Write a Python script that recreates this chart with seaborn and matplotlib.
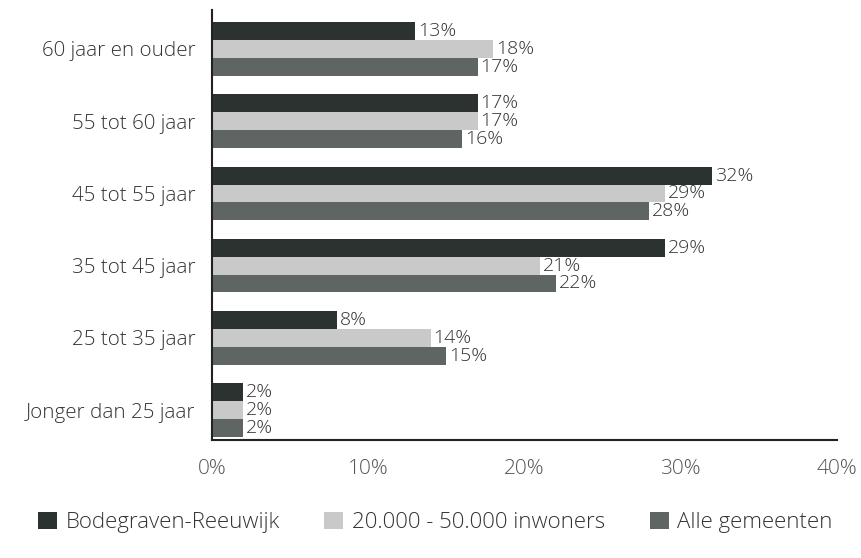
import matplotlib
matplotlib.use("Agg")
import matplotlib.pyplot as plt
import seaborn as sns
import pandas as pd
from matplotlib.patches import Patch

categories = ["60 jaar en ouder", "55 tot 60 jaar", "45 tot 55 jaar",
              "35 tot 45 jaar", "25 tot 35 jaar", "Jonger dan 25 jaar"]
series = ["Bodegraven-Reeuwijk", "20.000 - 50.000 inwoners", "Alle gemeenten"]
bodegraven = [13, 17, 32, 29, 8, 2]
inwoners = [18, 17, 29, 21, 14, 2]
alle = [17, 16, 28, 22, 15, 2]
xticks = [0, 10, 20, 30, 40]
colors = ["#2b3230", "#c9c9c9", "#5f6563"]

rows = []
for s, vals in zip(series, [bodegraven, inwoners, alle]):
    for c, v in zip(categories, vals):
        rows.append({"cat": c, "series": s, "val": v})
df = pd.DataFrame(rows)

sns.set_style("white")
plt.rcParams["font.family"] = ["Open Sans", "DejaVu Sans"]
plt.rcParams["font.weight"] = "light"

fig = plt.figure(figsize=(8.62, 5.58), dpi=100)
ax = fig.add_axes([212/862, 1-440/558, (837-212)/862, 430/558])
sns.barplot(data=df, y="cat", x="val", hue="series", order=categories,
            hue_order=series, palette=colors, orient="h", width=0.74,
            ax=ax, legend=False, saturation=1, linewidth=0)

for cont in ax.containers:
    ax.bar_label(cont, fmt="%d%%", padding=2, fontsize=14, color="#333333")

ax.set_xlim(0, 40)
ax.set_ylim(5.415, -0.54)
ax.set_xticks(xticks)
ax.set_xticklabels([f"{t}%" for t in xticks], fontsize=15, color="#555555")
ax.tick_params(axis="x", length=0, pad=14)
ax.tick_params(axis="y", length=0, pad=12, labelsize=14.8, labelcolor="#333333")
ax.set_xlabel("")
ax.set_ylabel("")
for side in ["top", "right"]:
    ax.spines[side].set_visible(False)
ax.spines["left"].set_color("#222222")
ax.spines["bottom"].set_color("#222222")
ax.spines["left"].set_linewidth(1.5)
ax.spines["bottom"].set_linewidth(1.5)

handles = [Patch(facecolor=c, edgecolor="none") for c in colors]
fig.legend(handles, series, loc="center", bbox_to_anchor=(0.505, 0.064),
           ncol=3, frameon=False, fontsize=16, handlelength=0.85,
           handleheight=0.85, handletextpad=0.4, columnspacing=2.0,
           labelcolor="#333333")

fig.savefig("out.png", dpi=100, facecolor="white")
